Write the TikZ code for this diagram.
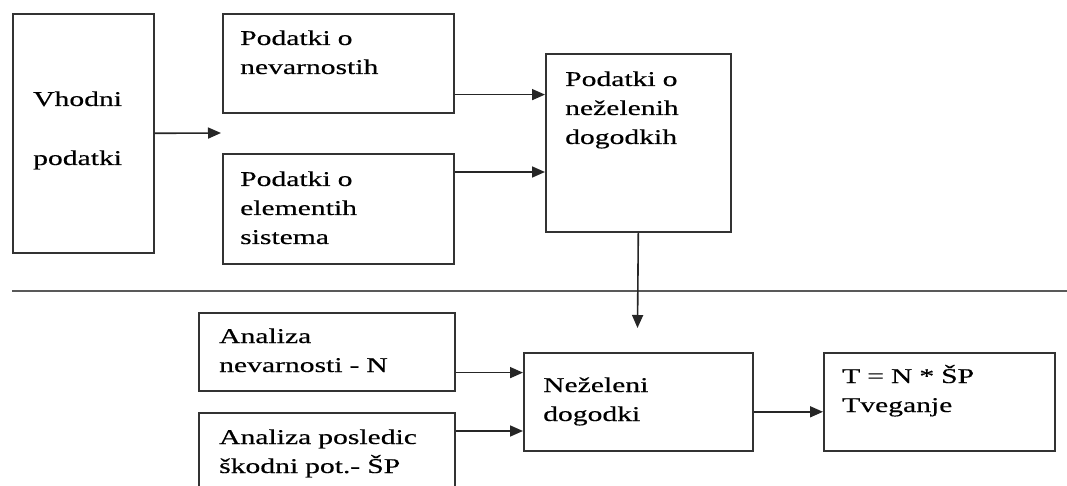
\documentclass[tikz,border=0pt]{standalone}
\usepackage{fontspec}
\setmainfont{Liberation Serif}[FakeStretch=1.41,FakeBold=0.4]
\usetikzlibrary{arrows.meta}
\usetikzlibrary{positioning}
\usetikzlibrary{calc}

\begin{document}
\begin{tikzpicture}[x=1pt,y=-1pt,
		box/.style={draw=black!80,line width=1.6pt,anchor=north west,inner sep=0pt,fill=white},
		txt/.style={anchor=base west,inner sep=0pt,text width=236pt,align=left,font=\fontsize{21}{29}\selectfont}]
			\useasboundingbox[fill=white] (0,0) rectangle (1067,486);
			\begin{scope}[every node/.style={box}]
		    \node[minimum width=141pt,minimum height=239pt] (vhod) at (12,13) {};
		    \node[minimum width=231pt,minimum height=99pt] (nev) at (222,13) {};
		    \node[minimum width=231pt,minimum height=110pt] (elem) at (222,153) {};
		    \node[minimum width=185pt,minimum height=178pt] (cen) at (545,53) {};
		    \node[minimum width=256pt,minimum height=78pt] (anev) at (198,312) {};
		    \node[minimum width=256pt,minimum height=80pt] (apos) at (198,412) {};
		    \node[minimum width=229pt,minimum height=98pt] (nez) at (523,352) {};
		    \node[minimum width=231pt,minimum height=98pt] (tv) at (823,352) {};
			\end{scope}
			\begin{scope}[every node/.style={txt}]
		    \node (vhodtxt) at ([shift={(21,93)}]vhod.north west) {Vhodni\\[30pt]podatki};
		    \node (nevtxt) at ([shift={(18,32)}]nev.north west) {Podatki o\\nevarnostih};
		    \node (elemtxt) at ([shift={(18,33)}]elem.north west) {Podatki o\\elementih\\sistema};
		    \node (centxt) at ([shift={(20,33)}]cen.north west) {Podatki o\\neželenih\\dogodkih};
		    \node (anevtxt) at ([shift={(21,31)}]anev.north west) {Analiza\\nevarnosti - N};
		    \node (apostxt) at ([shift={(21,32)}]apos.north west) {Analiza posledic\\škodni pot.- ŠP};
		    \node (neztxt) at ([shift={(20,40)}]nez.north west) {Neželeni\\dogodki};
		    \node (tvtxt) at ([shift={(19,31)}]tv.north west) {T = N * ŠP\\Tveganje};
			\end{scope}
		    \coordinate (vhodend) at (221,133);
		    \coordinate (cenend) at (637.5,328);
		    \coordinate (sepl) at (12,291);
		    \coordinate (sepr) at (1067,291);
		    \coordinate (nevout) at ([yshift=19pt]nev.south east);
		    \coordinate (elemout) at ([yshift=-19pt]elem.north east);
		    \coordinate (anevout) at ([yshift=19pt]anev.south east);
		    \coordinate (aposout) at ([yshift=-19pt]apos.north east);
		    \coordinate (nezout) at ([yshift=-10pt]nez.east);
		    \draw[draw=black!65,line width=2pt] (sepl) -- (sepr);
			\begin{scope}[every edge/.style={draw=black!85,line width=1.6pt,-{Triangle[length=13pt,width=11pt]}}]
		    \path (vhod.east) edge (vhodend);
		    \path (nevout) edge (nevout -| cen.west);
		    \path (elemout) edge (elemout -| cen.west);
		    \path (cen.south) edge (cenend);
		    \path (anevout) edge (anevout -| nez.west);
		    \path (aposout) edge (aposout -| nez.west);
		    \path (nezout) edge (nezout -| tv.west);
	    \end{scope}
    \end{tikzpicture}
\end{document}
